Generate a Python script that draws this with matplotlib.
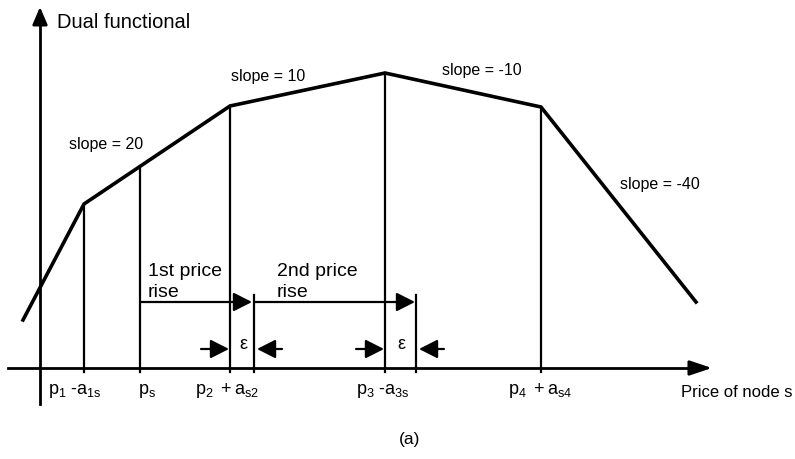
import matplotlib
matplotlib.use("Agg")
import matplotlib.pyplot as plt

plt.rcParams['font.family'] = ['Liberation Sans', 'DejaVu Sans']
plt.rcParams['mathtext.fontset'] = 'custom'
plt.rcParams['mathtext.rm'] = 'Liberation Sans'
plt.rcParams['mathtext.it'] = 'Liberation Sans'

# Piecewise linear dual functional (price vs dual value)
curve_x = [-17, 44, 190, 345, 501, 656]
curve_y = [48, 164, 262, 295, 261, 66]
# Breakpoint prices (p1-a1s, p2+as2, p3-a3s, p4+as4) and current price ps
break_x = [44, 190, 345, 501]
break_y = [164, 262, 295, 261]
ps_x = 100
ps_y = 201
# epsilon offsets beyond the breakpoints
eps_x = [214, 376]
slope_labels = ["slope = 20", "slope = 10", "slope = -10", "slope = -40"]
tick_labels = [r"$\mathregular{p_1\ \text{-}a_{1s}}$", r"$\mathregular{p_s}$",
               r"$\mathregular{p_2\ +a_{s2}}$", r"$\mathregular{p_3\ \text{-}a_{3s}}$",
               r"$\mathregular{p_4\ +a_{s4}}$"]

fig = plt.figure(figsize=(7.95, 4.6), dpi=100)
ax = fig.add_axes([0, 0, 1, 1])
ax.set_xlim(-40, 755)
ax.set_ylim(-91, 369)
ax.axis('off')

lwv = 1.6
# axes with arrows
ax.plot([0, 0], [-36, 350], color='black', lw=2)
ax.annotate('', xy=(0, 361), xytext=(0, 345),
            arrowprops=dict(arrowstyle='-|>,head_length=0.7,head_width=0.3',
                            color='black', lw=2, shrinkA=0, shrinkB=0, mutation_scale=15))
ax.plot([-32, 660], [0, 0], color='black', lw=2)
ax.annotate('', xy=(672, 0), xytext=(655, 0),
            arrowprops=dict(arrowstyle='-|>,head_length=0.9,head_width=0.3',
                            color='black', lw=2, shrinkA=0, shrinkB=0, mutation_scale=15))

# curve
ax.plot(curve_x, curve_y, color='black', lw=2.6, solid_joinstyle='miter')

# vertical lines at breakpoints
for bx, by in zip(break_x, break_y):
    ax.plot([bx, bx], [-4, by], color='black', lw=lwv)
ax.plot([ps_x, ps_x], [-4, ps_y], color='black', lw=lwv)
for ex in eps_x:
    ax.plot([ex, ex], [-4, 73], color='black', lw=lwv)

# price rise arrows
arrow_kw = dict(arrowstyle='-|>,head_length=0.75,head_width=0.38',
                color='black', lw=1.6, shrinkA=0, shrinkB=0, mutation_scale=15)
ax.annotate('', xy=(eps_x[0] - 2, 66), xytext=(ps_x, 66), arrowprops=arrow_kw)
ax.annotate('', xy=(eps_x[1] - 1, 66), xytext=(eps_x[0], 66), arrowprops=arrow_kw)

# epsilon arrows
for bx, ex in zip([break_x[1], break_x[2]], eps_x):
    ax.annotate('', xy=(bx - 1, 19), xytext=(bx - 29, 19), arrowprops=arrow_kw)
    ax.annotate('', xy=(ex + 3, 19), xytext=(ex + 28, 19), arrowprops=arrow_kw)
    ax.text((bx + ex) / 2 + 1, 24, 'ε', ha='center', va='center', fontsize=13)

# texts
ax.text(17, 346, 'Dual functional', fontsize=14.5, ha='left', va='center')
ax.text(29, 225, slope_labels[0], fontsize=11.5, ha='left', va='center')
ax.text(191, 293, slope_labels[1], fontsize=11.5, ha='left', va='center')
ax.text(402, 299, slope_labels[2], fontsize=11.5, ha='left', va='center')
ax.text(580, 185, slope_labels[3], fontsize=11.5, ha='left', va='center')

ax.text(108, 87, '1st price\nrise', fontsize=14, ha='left', va='center', linespacing=1.35)
ax.text(237, 87, '2nd price\nrise', fontsize=14, ha='left', va='center', linespacing=1.35)

tick_pos = [8, 98, 155, 316, 468]
for tx, lab in zip(tick_pos, tick_labels):
    ax.text(tx, -22, lab, fontsize=13, ha='left', va='center')
ax.text(641, -24, 'Price of node s', fontsize=12, ha='left', va='center')
ax.text(370, -71, '(a)', fontsize=12.5, ha='center', va='center')

fig.savefig('out.png', dpi=100)
